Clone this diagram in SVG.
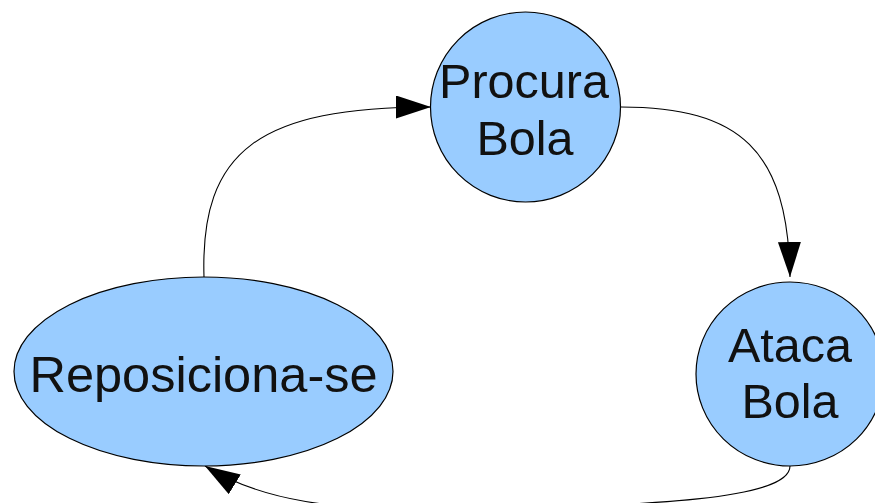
<svg xmlns="http://www.w3.org/2000/svg" width="875" height="503" viewBox="0 0 875 503">
<style>
.n{fill:#99ccff;stroke:#000;stroke-width:1.2}
.t{font-family:"Liberation Sans",Arial,sans-serif;font-size:48.5px;fill:#111;text-anchor:middle}
.c{fill:none;stroke:#000;stroke-width:1.1}
</style>
<defs>
<marker id="a" markerWidth="36" markerHeight="24" refX="35" refY="11.5" orient="auto" markerUnits="userSpaceOnUse">
<path d="M0,0 L35,11.5 L0,23 Z" fill="#000"/>
</marker>
</defs>
<rect width="875" height="503" fill="#fff"/>
<g id="connectors">
<path class="c" d="M204,277 C200,150 260,107 431,107" marker-end="url(#a)"/>
<path class="c" d="M621,107 C740,107 788,150 790,277" marker-end="url(#a)"/>
<path class="c" d="M790,466 C790,500 650,505 470,510 C330,512 260,500 205,466" marker-end="url(#a)"/>
</g>
<g id="procura">
<circle class="n" cx="525.5" cy="107" r="95"/>
<text class="t" x="524" y="98">Procura</text>
<text class="t" x="525" y="155">Bola</text>
</g>
<g id="ataca">
<ellipse class="n" cx="790" cy="374" rx="94" ry="92"/>
<text class="t" x="790" y="362">Ataca</text>
<text class="t" x="790" y="418">Bola</text>
</g>
<g id="reposiciona">
<ellipse class="n" cx="203.5" cy="371.5" rx="189.5" ry="94.5"/>
<text class="t" x="203.5" y="392" style="font-size:50.5px">Reposiciona-se</text>
</g>
</svg>
